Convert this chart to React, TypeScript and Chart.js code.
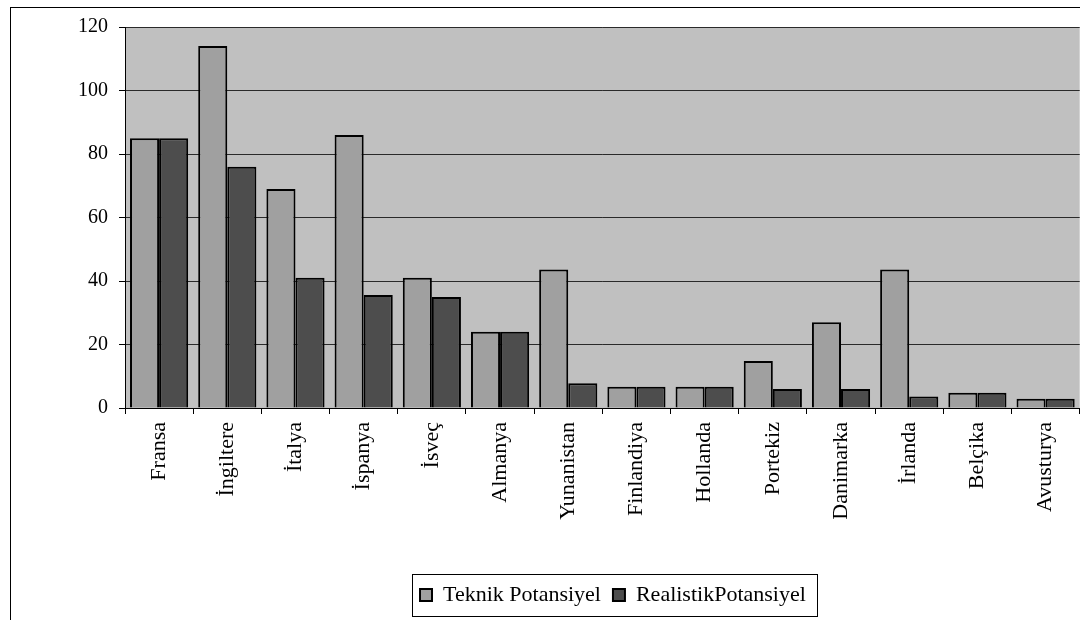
import { useEffect, useRef } from "react";
import { Chart, registerables } from "chart.js";

Chart.register(...registerables);

// Countries on the category axis
const countries = [
  "Fransa",
  "İngiltere",
  "İtalya",
  "İspanya",
  "İsveç",
  "Almanya",
  "Yunanistan",
  "Finlandiya",
  "Hollanda",
  "Portekiz",
  "Danimarka",
  "İrlanda",
  "Belçika",
  "Avusturya",
];

// Technical potential per country
const teknik = [85, 114, 69, 86, 41, 24, 43.6, 6.7, 6.7, 14.8, 27, 43.6, 4.8, 2.9];

// Realistic potential per country
const realistik = [85, 76, 41, 35.6, 35, 24, 7.8, 6.7, 6.7, 6, 6, 3.6, 4.8, 2.9];

const seriesNames = ["Teknik Potansiyel", "RealistikPotansiyel"];

const yMin = 0;
const yMax = 120;
const yStep = 20;

const FONT = "'Liberation Serif', 'Times New Roman', serif";

// Grey plot background, outer frame and a framed legend
const framePlugin = {
  id: "frame",
  beforeDraw(chart: any) {
    const { ctx, chartArea } = chart;
    ctx.save();
    ctx.fillStyle = "#ffffff";
    ctx.fillRect(0, 0, chart.width, chart.height);
    ctx.fillStyle = "#c0c0c0";
    ctx.fillRect(chartArea.left, chartArea.top, chartArea.right - chartArea.left, chartArea.bottom - chartArea.top);
    ctx.restore();
  },
  afterLayout(chart: any) {
    const lg = chart.legend;
    if (!lg || !lg.lineWidths) return;
    const pad = lg.options.labels.padding;
    const start = (lg.left + pad + lg.right - lg.lineWidths[0]) / 2;
    const dx = 420 - start;
    lg.left += dx;
    lg.right += dx;
  },
  afterDraw(chart: any) {
    const { ctx } = chart;
    ctx.save();
    ctx.strokeStyle = "#000";
    ctx.lineWidth = 1;
    ctx.strokeRect(10.5, 7.5, chart.width + 20, chart.height + 20);
    const hb = chart.legend?.legendHitBoxes;
    if (hb && hb.length) {
      const first = hb[0];
      const last = hb[hb.length - 1];
      const l = Math.round(first.left - 8);
      const r = Math.round(last.left + last.width + 11);
      const cy = Math.round(first.top + first.height / 2);
      ctx.strokeRect(l + 0.5, cy - 21 + 0.5, r - l, 42);
    }
    ctx.restore();
  },
};

export default function App() {
  const canvasRef = useRef<HTMLCanvasElement | null>(null);

  useEffect(() => {
    const canvas = canvasRef.current;
    if (!canvas) return;
    const chart = new Chart(canvas, {
      type: "bar",
      data: {
        labels: countries,
        datasets: [
          {
            label: seriesNames[0],
            data: teknik,
            backgroundColor: "#a0a0a0",
            borderColor: "#000000",
            borderWidth: 2,
          },
          {
            label: seriesNames[1],
            data: realistik,
            backgroundColor: "#4d4d4d",
            borderColor: "#000000",
            borderWidth: 2,
          },
        ],
      },
      options: {
        responsive: false,
        animation: false,
        devicePixelRatio: 1,
        layout: { padding: { left: 10, top: 27, right: 0, bottom: 4 } },
        datasets: {
          bar: { barPercentage: 1, categoryPercentage: 0.853 },
        },
        plugins: {
          tooltip: { enabled: false },
          legend: {
            position: "bottom",
            labels: {
              boxWidth: 12,
              boxHeight: 12,
              padding: 12,
              color: "#000",
              font: { family: FONT, size: 22 },
            },
          },
        },
        scales: {
          x: {
            afterFit(scale: any) {
              scale.height = 164;
            },
            grid: {
              offset: true,
              drawOnChartArea: false,
              drawTicks: true,
              tickLength: 6,
              tickColor: "#000",
            },
            border: { color: "#000", width: 1 },
            ticks: {
              autoSkip: false,
              maxRotation: 90,
              minRotation: 90,
              padding: 8,
              color: "#000",
              font: { family: FONT, size: 22 },
            },
          },
          y: {
            min: yMin,
            max: yMax,
            afterFit(scale: any) {
              scale.width = 115;
            },
            grid: {
              color: "#2a2a2a",
              tickColor: "#000",
              tickLength: 6,
              lineWidth: 1,
            },
            border: { color: "#000", width: 1 },
            ticks: {
              stepSize: yStep,
              padding: 11,
              color: "#000",
              font: { family: FONT, size: 20 },
            },
          },
        },
      },
      plugins: [framePlugin],
    } as any);
    return () => chart.destroy();
  }, []);

  return (
    <div
      style={{
        position: "fixed",
        left: 0,
        top: 0,
        width: 1080,
        height: 620,
        overflow: "hidden",
        background: "#fff",
      }}
    >
      <canvas ref={canvasRef} width={1080} height={620} style={{ display: "block" }} />
    </div>
  );
}
